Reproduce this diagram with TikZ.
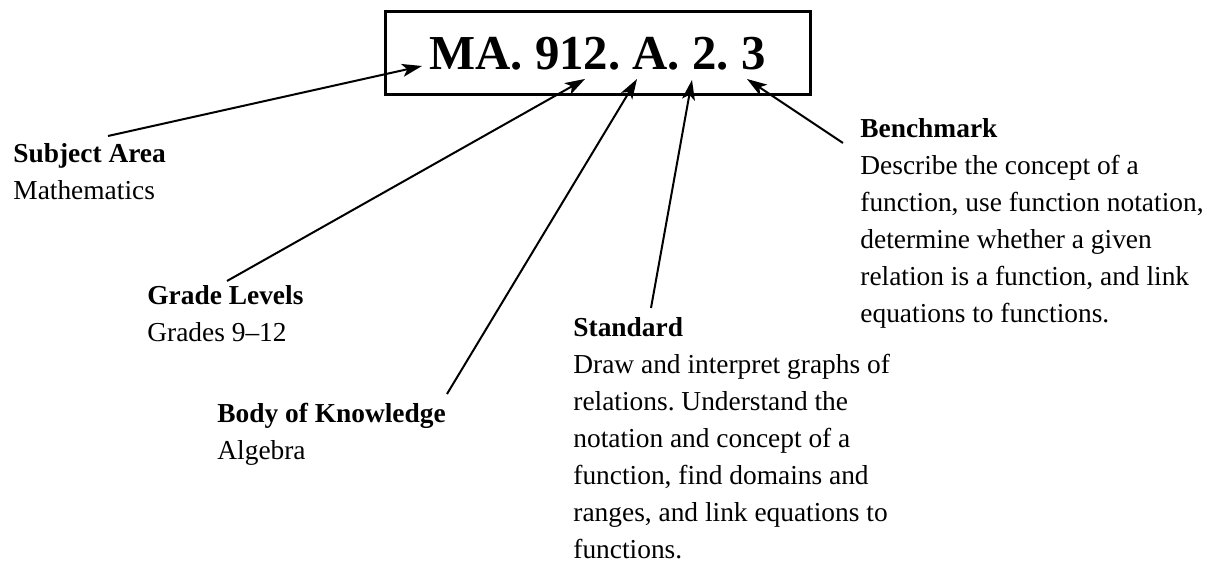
\documentclass[tikz,border=0pt]{standalone}
\usepackage{fontspec}
\setmainfont{Liberation Serif}
\usetikzlibrary{arrows.meta}
\frenchspacing

\begin{document}
\begin{tikzpicture}[x=0.5pt,y=-0.5pt,
  lbl/.style={anchor=base west,align=left,inner sep=0pt,
              font=\fontsize{13.7}{18.5}\selectfont},
  code/.style={draw,line width=1.5pt,minimum width=212.5pt,minimum height=41.5pt,
               inner sep=0pt,text depth=0pt,font=\fontsize{24.4}{28}\selectfont\bfseries},
  arr/.style={-{Stealth[length=10pt,width=6.5pt,inset=2.5pt]},line width=1pt}]
\useasboundingbox (0,0) rectangle (1212,565);

% ------------------------------ code box ----------------------------------
\node[code] (cd) at (597.5,53.5) {MA. 912. A. 2. 3};

% ------------------------------- labels -----------------------------------
% base anchor of a multi-line node sits on its last line
\node[lbl] (subj)  at (13,200)  {\textbf{Subject Area}\\Mathematics};
\node[lbl] (grade) at (147,342) {\textbf{Grade Levels}\\Grades 9--12};
\node[lbl] (body)  at (217,460) {\textbf{Body of Knowledge}\\Algebra};
\node[lbl] (std)   at (573,559) {\textbf{Standard}\\Draw and interpret graphs of\\
  relations. Understand the\\notation and concept of a\\function, find domains and\\
  ranges, and link equations to\\functions.};
\node[lbl] (bench) at (860,323) {\textbf{Benchmark}\\Describe the concept of a\\
  function, use function notation,\\determine whether a given\\
  relation is a function, and link\\equations to functions.};

% ------------------------------ pointers ----------------------------------
\coordinate (subjT)  at (108,136);  \coordinate (subjH)  at (422,66);
\coordinate (gradeT) at (227,281);  \coordinate (gradeH) at (585,79);
\coordinate (bodyT)  at (447,394);  \coordinate (bodyH)  at (637,79);
\coordinate (stdT)   at (651,308);  \coordinate (stdH)   at (692,80);
\coordinate (benchT) at (843,143);  \coordinate (benchH) at (747,79);
\draw[arr] (subjT)  -- (subjH);
\draw[arr] (gradeT) -- (gradeH);
\draw[arr] (bodyT)  -- (bodyH);
\draw[arr] (stdT)   -- (stdH);
\draw[arr] (benchT) -- (benchH);
\end{tikzpicture}
\end{document}
